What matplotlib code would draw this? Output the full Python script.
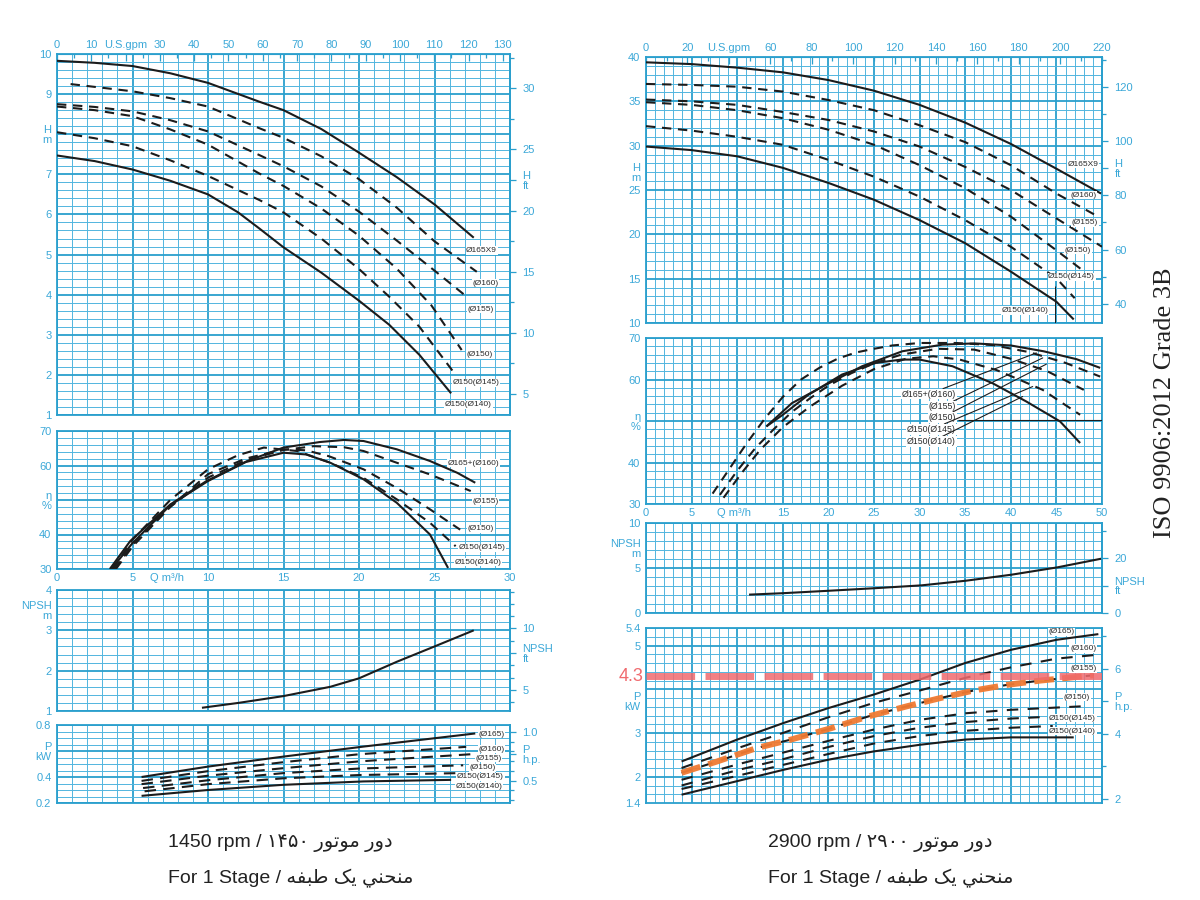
import numpy as np
import matplotlib
matplotlib.use("Agg")
import matplotlib.pyplot as plt
import matplotlib.transforms as mtransforms
from matplotlib.ticker import MultipleLocator

plt.rcParams['font.family'] = ['Liberation Sans', 'DejaVu Sans']

GRID_MAJ = '#2a9fcd'
GRID_MIN = '#52b5de'
LBL = '#3ba8d8'
INK = '#1c1c1c'

M2FT = 3.28084
KW2HP = 1 / 0.7457
M3H2GPM = 4.4029

# ================= 1450 rpm (left) =================
# H [m]
L_H165_Q = [0, 2.5, 5, 7.5, 10, 13.4, 15, 17.5, 20, 22.5, 25, 27.6]
L_H165 = [9.83, 9.78, 9.7, 9.52, 9.28, 8.81, 8.6, 8.13, 7.54, 6.93, 6.25, 5.42]
L_H160_Q = [0.9, 2.5, 5, 7.5, 10, 13.4, 15, 17.5, 20, 22.5, 25, 27.8]
L_H160 = [9.25, 9.18, 9.07, 8.9, 8.69, 8.15, 7.91, 7.45, 6.88, 6.17, 5.33, 4.57]
L_H155_Q = [0, 2.5, 5, 7.5, 10, 13.4, 15, 17.5, 20, 22.5, 25, 27.0]
L_H155 = [8.75, 8.68, 8.57, 8.35, 8.07, 7.48, 7.2, 6.7, 6.07, 5.35, 4.6, 3.99]
L_H150_Q = [0, 2.5, 5, 7.5, 10, 13.4, 15, 17.5, 20, 22.5, 24.8, 26.8]
L_H150 = [8.69, 8.6, 8.45, 8.12, 7.74, 7.02, 6.71, 6.15, 5.47, 4.65, 3.73, 2.62]
L_H145_Q = [0, 2.5, 5, 7.5, 10, 13.4, 15, 17.5, 20, 22, 24, 26.4]
L_H145 = [8.05, 7.9, 7.7, 7.35, 6.96, 6.36, 6.05, 5.4, 4.64, 3.95, 3.2, 2.0]
L_H140_Q = [0, 2.5, 5, 7.5, 10, 12, 13.4, 15, 17.5, 20, 22, 24, 26.1]
L_H140 = [7.47, 7.33, 7.12, 6.84, 6.5, 6.05, 5.65, 5.18, 4.55, 3.85, 3.25, 2.5, 1.54]

# efficiency [%]
L_E165_Q = [3.5, 4.85, 7.5, 9.9, 12.6, 15, 17.4, 19, 20.3, 22.5, 24.7, 26.5, 27.7]
L_E165 = [30, 38.1, 48.7, 55.5, 61.3, 65.2, 66.8, 67.4, 67.1, 64.7, 61.3, 57.9, 55]
L_E155_Q = [3.8, 5, 7.5, 10, 12.5, 15, 17, 19, 20.3, 22.5, 24.7, 27.4]
L_E155 = [30, 37, 48, 56.5, 61.5, 64.5, 65.6, 65.3, 64.2, 60.8, 57.4, 52.6]
L_E150_Q = [3.9, 5, 7.5, 10, 12.5, 15, 16.5, 18, 20.3, 22.5, 24.7, 26.7]
L_E150 = [30, 36.5, 48, 57.5, 62, 64.7, 64.4, 62.7, 58.9, 53.5, 47.3, 41.4]
L_E145_Q = [3.7, 5, 7.5, 10, 12, 13.7, 15.9, 18.1, 20.3, 22.5, 24.7, 26.4]
L_E145 = [30, 38.5, 50, 58.9, 63, 65.2, 64.2, 60.8, 56.4, 50.2, 43.4, 36.6]
L_E140_Q = [3.6, 5, 7.5, 10, 12.5, 15, 16.5, 18.1, 20.3, 22.5, 24.7, 25.9]
L_E140 = [30, 37.5, 48.5, 55.5, 61, 63.7, 63.2, 60.8, 56, 49.2, 40, 30.3]

# NPSH [m]
L_NPSH_Q = [9.6, 12, 15, 18.1, 20, 22.5, 25, 27.6]
L_NPSH = [1.08, 1.2, 1.37, 1.6, 1.81, 2.22, 2.6, 3.0]

# power [kW]
L_P165_Q = [5.6, 10, 15, 20.3, 27.7]
L_P165 = [0.40, 0.48, 0.557, 0.634, 0.735]
L_P160_Q = [5.6, 10, 15, 20, 27.1]
L_P160 = [0.37, 0.445, 0.514, 0.575, 0.632]
L_P155_Q = [5.6, 10, 15, 20, 27.4]
L_P155 = [0.345, 0.41, 0.468, 0.52, 0.575]
L_P150_Q = [5.7, 10, 15, 20, 26.9]
L_P150 = [0.315, 0.375, 0.43, 0.465, 0.49]
L_P145_Q = [5.8, 10, 15, 20, 26.7]
L_P145 = [0.29, 0.345, 0.39, 0.415, 0.43]
L_P140_Q = [5.6, 10, 15, 20.3, 26.1]
L_P140 = [0.255, 0.3, 0.34, 0.366, 0.378]

# ================= 2900 rpm (right) =================
R_H165_Q = [0, 5, 10, 15, 20, 25, 30, 35, 40, 45, 49.9]
R_H165 = [39.4, 39.2, 38.8, 38.27, 37.4, 36.2, 34.6, 32.6, 30.2, 27.4, 24.6]
R_H160_Q = [0, 5, 10, 15, 20, 25, 30, 35, 40, 45, 49.4]
R_H160 = [36.96, 36.85, 36.65, 36.1, 35.15, 34.0, 32.3, 30.4, 27.8, 24.6, 22.1]
R_H155_Q = [0, 5, 10, 15, 20, 25, 30, 35, 40, 45, 50]
R_H155 = [35.2, 35.0, 34.6, 33.8, 32.9, 31.6, 29.9, 27.6, 25.0, 21.8, 18.6]
R_H150_Q = [0, 5, 10, 15, 20, 25, 30, 35, 40, 45, 47.8]
R_H150 = [34.9, 34.6, 34.0, 33.1, 31.8, 30.1, 27.8, 25.2, 22.0, 18.2, 16.0]
R_H145_Q = [0, 5, 10, 15, 20, 25, 30, 35, 40, 45, 47]
R_H145 = [32.2, 31.7, 31.0, 30.1, 28.4, 26.5, 24.25, 21.6, 18.6, 15.05, 12.8]
R_H140_Q = [0, 5, 10, 15, 20, 25, 30, 35, 40, 45, 46.9]
R_H140 = [29.9, 29.5, 28.8, 27.5, 25.8, 23.9, 21.6, 19.0, 15.8, 12.4, 10.4]

R_E165_Q = [13.2, 16, 19.7, 23.7, 28.1, 32.5, 36, 40, 43.6, 47.2, 49.8]
R_E165 = [48.7, 54.3, 58.7, 63.2, 66.8, 68.4, 68.7, 68.2, 66.8, 64.9, 62.8]
R_E155_Q = [7.3, 9, 11, 13, 15, 17, 19, 21, 23, 25, 27, 30, 34, 38, 42, 46, 49.8]
R_E155 = [32.5, 38, 44.5, 50.5, 55.8, 60, 62.8, 65, 66.5, 67.4, 68.2, 68.8, 68.8, 68.3, 66.6, 64.0, 60.7]
R_E150_Q = [8.1, 10, 12, 14, 16, 18, 20, 22.5, 25, 28, 32, 36, 40, 44, 48]
R_E150 = [32.2, 38, 43.5, 48, 52.2, 55.5, 58.5, 61.5, 63.9, 66, 67.4, 67.2, 65, 62, 57.5]
R_E145_Q = [8.5, 10.5, 12.5, 15, 18, 21.5, 25, 28.5, 31.5, 34.4, 38.4, 41, 43.5, 45.4, 47.6]
R_E145 = [31.5, 37.5, 43, 48.5, 53.5, 58.5, 62.5, 65.0, 65.6, 64.8, 62.3, 59.9, 57.5, 54.7, 51.5]
R_E140_Q = [13.2, 15, 17.8, 21.5, 25.2, 28, 30, 33.6, 38, 41.7, 45.4, 47.6]
R_E140 = [48.7, 51.5, 56.3, 61.2, 64, 64.8, 64.8, 63.2, 59.1, 54.7, 49.9, 44.7]

R_NPSH_Q = [11.3, 15, 20.2, 25, 30.2, 35.1, 40.1, 45.1, 49.9]
R_NPSH = [2.04, 2.2, 2.48, 2.75, 3.07, 3.59, 4.26, 5.07, 6.03]

R_P165_Q = [3.9, 10, 15.1, 20, 25, 30, 35, 40, 45, 49.6]
R_P165 = [2.35, 2.85, 3.23, 3.57, 3.88, 4.22, 4.6, 4.9, 5.13, 5.26]
R_P160_Q = [3.9, 10, 15, 20, 25, 30, 35, 40, 45, 49.6]
R_P160 = [2.2, 2.65, 3.0, 3.36, 3.69, 3.97, 4.26, 4.5, 4.7, 4.79]
R_P155_Q = [3.9, 7.8, 12.2, 15.9, 20.3, 24.4, 28.6, 32.3, 35.9, 39.6, 43.3, 49.1]
R_P155 = [2.09, 2.35, 2.66, 2.85, 3.11, 3.38, 3.61, 3.8, 3.97, 4.1, 4.2, 4.32]
R_P150_Q = [3.9, 10, 15, 20, 25, 30, 35, 40, 47.8]
R_P150 = [1.93, 2.28, 2.55, 2.82, 3.08, 3.3, 3.45, 3.53, 3.61]
R_P145_Q = [3.9, 10, 15, 20, 25, 30, 35, 40, 44]
R_P145 = [1.8, 2.15, 2.4, 2.68, 2.93, 3.12, 3.25, 3.33, 3.37]
R_P14X_Q = [3.9, 10, 15, 20, 25, 30, 35, 40, 44.6]
R_P14X = [1.72, 2.02, 2.27, 2.52, 2.76, 2.93, 3.05, 3.12, 3.16]
R_P140_Q = [3.9, 10, 15.1, 20, 25, 30, 35, 40, 46.9]
R_P140 = [1.59, 1.9, 2.16, 2.39, 2.58, 2.73, 2.85, 2.9, 2.9]
P_LIMIT = 4.3

# ---- text (Arabic script written in display order, presentation forms) ----
FA_DOR = '\uFEAD\uFEED\uFEA9'                      # دور
FA_MOTOR = '\uFEAD\uFEEE\uFE97\uFEEE\uFEE3'        # موتور
FA_TABAGHE = '\uFEEA\uFED4\uFE92\uFEC3'            # طبقه
FA_YEK = '\uFB8F\uFEF3'                            # یک
FA_MONHANI = '\uFEF2\uFEE8\uFEA4\uFEE8\uFEE3'      # منحنی
TXT_L1 = '1450 rpm / \u06F1\u06F4\u06F5\u06F0 ' + FA_MOTOR + ' ' + FA_DOR
TXT_R1 = '2900 rpm / \u06F2\u06F9\u06F0\u06F0 ' + FA_MOTOR + ' ' + FA_DOR
TXT_2 = 'For 1 Stage / ' + FA_TABAGHE + ' ' + FA_YEK + ' ' + FA_MONHANI

W, HH = 1200, 900
fig = plt.figure(figsize=(12, 9), dpi=100)
fig.patch.set_facecolor('white')


def make_ax(x0, y0, x1, y1, xlim, ylim):
    ax = fig.add_axes([x0 / W, 1 - y1 / HH, (x1 - x0) / W, (y1 - y0) / HH])
    ax.set_xlim(*xlim)
    ax.set_ylim(*ylim)
    for s in ax.spines.values():
        s.set_color(GRID_MAJ)
        s.set_linewidth(1.3)
    ax.tick_params(length=0, labelsize=8, labelcolor=LBL, pad=4)
    ax.set_xticks([])
    return ax


def draw_grid(ax, xstep, xmaj, ystep, ymaj):
    x0, x1 = ax.get_xlim()
    y0, y1 = ax.get_ylim()
    for x in np.arange(x0, x1 + 1e-6, xstep):
        m = np.isclose(x / xmaj, round(x / xmaj))
        ax.axvline(x, color=GRID_MAJ if m else GRID_MIN, lw=1.3 if m else 0.7, zorder=0)
    for y in np.arange(y0, y1 + 1e-6, ystep):
        m = np.isclose(y / ymaj, round(y / ymaj))
        ax.axhline(y, color=GRID_MAJ if m else GRID_MIN, lw=1.3 if m else 0.7, zorder=0)


def left_ticks(ax, ticks, labels):
    ax.set_yticks(ticks, labels=labels)
    for t in ax.get_yticklabels():
        t.set_linespacing(0.95)


def right_axis(ax, f, ticks, labels, minor):
    sec = ax.secondary_yaxis('right', functions=(lambda v: v * f, lambda v: v / f))
    sec.set_yticks(ticks, labels=labels)
    sec.yaxis.set_minor_locator(MultipleLocator(minor))
    sec.tick_params(which='both', direction='out', color=GRID_MAJ, labelcolor=LBL,
                    labelsize=8, width=0.9)
    sec.tick_params(which='major', length=4, pad=5)
    sec.tick_params(which='minor', length=3)
    sec.spines['right'].set_color(GRID_MAJ)
    sec.spines['right'].set_linewidth(1.3)
    for t in sec.get_yticklabels():
        t.set_linespacing(0.95)
    return sec


def top_axis(ax, ticks, labels, minor):
    sec = ax.secondary_xaxis('top', functions=(lambda q: q * M3H2GPM, lambda g: g / M3H2GPM))
    sec.set_xticks(ticks, labels=labels)
    sec.xaxis.set_minor_locator(MultipleLocator(minor))
    sec.tick_params(which='both', direction='in', color=GRID_MAJ, labelcolor=LBL,
                    labelsize=8, width=0.9, pad=3)
    sec.tick_params(which='major', length=5)
    sec.tick_params(which='minor', length=3)
    sec.spines['top'].set_color(GRID_MAJ)
    return sec


def curve(ax, q, v, dashed=False, dash=(4.5, 3.2), lw=1.5):
    ax.plot(q, v, color=INK, lw=lw, ls=(0, dash) if dashed else '-',
            zorder=3, solid_capstyle='butt', dash_capstyle='butt', solid_joinstyle='round')


def tag(ax, x, y, s, ha='left', size=6):
    ax.text(x, y, s, fontsize=size, color='#2a2a2a', ha=ha, va='center', zorder=6,
            bbox=dict(fc='white', ec='none', pad=0.5))


# ---------------- left column ----------------
ax = make_ax(57, 54, 510, 415, (0, 30), (1, 10))
draw_grid(ax, 1, 5, 0.2, 1)
left_ticks(ax, list(range(1, 11)), ['1', '2', '3', '4', '5', '6', '7', 'H\nm', '9', '10'])
top_axis(ax, list(range(0, 131, 10)),
         ['0', '10', 'U.S.gpm'] + [str(v) for v in range(30, 131, 10)], 5)
right_axis(ax, M2FT, [5, 10, 15, 20, 22.5, 25, 30], ['5', '10', '15', '20', 'H\nft', '25', '30'], 2.5)
curve(ax, L_H165_Q, L_H165)
curve(ax, L_H160_Q, L_H160, True)
curve(ax, L_H155_Q, L_H155, True)
curve(ax, L_H150_Q, L_H150, True)
curve(ax, L_H145_Q, L_H145, True)
curve(ax, L_H140_Q, L_H140)
tag(ax, 27.1, 5.1, 'Ø165X9')
tag(ax, 27.5, 4.29, '(Ø160)')
tag(ax, 27.2, 3.64, '(Ø155)')
tag(ax, 27.15, 2.5, '(Ø150)')
tag(ax, 26.2, 1.8, 'Ø150(Ø145)')
tag(ax, 25.7, 1.25, 'Ø150(Ø140)')

ax = make_ax(57, 431, 510, 569, (0, 30), (30, 70))
draw_grid(ax, 1, 5, 2, 10)
left_ticks(ax, [30, 40, 50, 60, 70], ['30', '40', 'η\n%', '60', '70'])
ax.set_xticks([0, 5, 7.3, 10, 15, 20, 25, 30],
              labels=['0', '5', 'Q m³/h', '10', '15', '20', '25', '30'])
ax.tick_params(axis='x', pad=3)
curve(ax, L_E165_Q, L_E165)
curve(ax, L_E155_Q, L_E155, True)
curve(ax, L_E150_Q, L_E150, True)
curve(ax, L_E145_Q, L_E145, True)
curve(ax, L_E140_Q, L_E140)
tag(ax, 25.9, 60.7, 'Ø165+(Ø160)')
tag(ax, 27.5, 49.7, '(Ø155)')
tag(ax, 27.2, 41.6, '(Ø150)')
tag(ax, 26.6, 36.1, 'Ø150(Ø145)')
tag(ax, 26.35, 32.0, 'Ø150(Ø140)')

ax = make_ax(57, 590, 510, 711, (0, 30), (1, 4))
draw_grid(ax, 1, 5, 0.2, 1)
left_ticks(ax, [1, 2, 3, 3.5, 4], ['1', '2', '3', 'NPSH\nm', '4'])
right_axis(ax, M2FT, [5, 8, 10], ['5', 'NPSH\nft', '10'], 1)
curve(ax, L_NPSH_Q, L_NPSH)

ax = make_ax(57, 725, 510, 803, (0, 30), (0.2, 0.8))
draw_grid(ax, 1, 5, 0.05, 0.2)
left_ticks(ax, [0.2, 0.4, 0.6, 0.8], ['0.2', '0.4', 'P\nkW', '0.8'])
right_axis(ax, KW2HP, [0.5, 0.77, 1.0], ['0.5', 'P\nh.p.', '1.0'], 0.1)
curve(ax, L_P165_Q, L_P165)
curve(ax, L_P160_Q, L_P160, True, (5.5, 3.5))
curve(ax, L_P155_Q, L_P155, True, (5.5, 3.5))
curve(ax, L_P150_Q, L_P150, True, (5.5, 3.5))
curve(ax, L_P145_Q, L_P145, True, (5.5, 3.5))
curve(ax, L_P140_Q, L_P140)
tag(ax, 27.9, 0.73, '(Ø165)')
tag(ax, 27.9, 0.615, '(Ø160)')
tag(ax, 27.7, 0.546, '(Ø155)')
tag(ax, 27.3, 0.47, '(Ø150)')
tag(ax, 26.5, 0.40, 'Ø150(Ø145)')
tag(ax, 26.4, 0.33, 'Ø150(Ø140)')

# ---------------- right column ----------------
ax = make_ax(646, 57, 1102, 323, (0, 50), (10, 40))
draw_grid(ax, 1, 5, 1, 5)
left_ticks(ax, [10, 15, 20, 25, 27, 30, 35, 40], ['10', '15', '20', '25', 'H\nm', '30', '35', '40'])
top_axis(ax, list(range(0, 221, 20)),
         ['0', '20', 'U.S.gpm'] + [str(v) for v in range(60, 221, 20)], 10)
right_axis(ax, M2FT, [40, 60, 80, 90, 100, 120], ['40', '60', '80', 'H\nft', '100', '120'], 10)
curve(ax, R_H165_Q, R_H165)
curve(ax, R_H160_Q, R_H160, True)
curve(ax, R_H155_Q, R_H155, True)
curve(ax, R_H150_Q, R_H150, True)
curve(ax, R_H145_Q, R_H145, True)
curve(ax, R_H140_Q, R_H140)
ax.vlines(44.8, 10, 14.2, color=INK, lw=0.7, zorder=3)
tag(ax, 46.2, 27.9, 'Ø165X9')
tag(ax, 46.5, 24.4, '(Ø160)')
tag(ax, 46.7, 21.3, '(Ø155)')
tag(ax, 45.9, 18.2, '(Ø150)')
tag(ax, 44.1, 15.2, 'Ø150(Ø145)')
tag(ax, 39.0, 11.4, 'Ø150(Ø140)')

ax = make_ax(646, 338, 1102, 504, (0, 50), (30, 70))
draw_grid(ax, 1, 5, 2, 10)
left_ticks(ax, [30, 40, 50, 60, 70], ['30', '40', 'η\n%', '60', '70'])
ax.set_xticks([0, 5, 9.6, 15, 20, 25, 30, 35, 40, 45, 50],
              labels=['0', '5', 'Q m³/h', '15', '20', '25', '30', '35', '40', '45', '50'])
ax.tick_params(axis='x', pad=3)
curve(ax, R_E165_Q, R_E165)
curve(ax, R_E155_Q, R_E155, True)
curve(ax, R_E150_Q, R_E150, True)
curve(ax, R_E145_Q, R_E145, True)
curve(ax, R_E140_Q, R_E140)
ax.hlines(50.3, 34.2, 50, color=INK, lw=0.8, zorder=3)
lead = dict(arrowstyle='-', lw=0.8, color=INK, shrinkA=0, shrinkB=0)
for s, ty, tx, hy in [('Ø165+(Ø160)', 56.5, 42.8, 66.4), ('(Ø155)', 53.5, 43.5, 65.2),
                      ('(Ø150)', 50.9, 43.9, 63.7), ('Ø150(Ø145)', 48.0, 42.4, 58.3),
                      ('Ø150(Ø140)', 45.0, 41.3, 55.9)]:
    ax.annotate(s, xy=(tx, hy), xytext=(34.0, ty), ha='right', va='center', fontsize=6.3,
                color='#2a2a2a', arrowprops=lead, zorder=6,
                bbox=dict(fc='white', ec='none', pad=0.6))

ax = make_ax(646, 523, 1102, 613, (0, 50), (0, 10))
draw_grid(ax, 1, 5, 1, 5)
left_ticks(ax, [0, 5, 7.2, 10], ['0', '5', 'NPSH\nm', '10'])
right_axis(ax, M2FT, [0, 10, 20], ['0', 'NPSH\nft', '20'], 10)
curve(ax, R_NPSH_Q, R_NPSH)

ax = make_ax(646, 628, 1102, 803, (0, 50), (1.4, 5.4))
draw_grid(ax, 1, 5, 0.2, 1)
left_ticks(ax, [1.4, 2, 3, 3.72, 5, 5.4], ['1.4', '2', '3', 'P\nkW', '5', '5.4'])
right_axis(ax, KW2HP, [2, 4, 5, 6], ['2', '4', 'P\nh.p.', '6'], 1)
pd = (5.5, 4.5)
curve(ax, R_P165_Q, R_P165)
curve(ax, R_P160_Q, R_P160, True, pd)
curve(ax, R_P155_Q, R_P155, True, pd)
curve(ax, R_P150_Q, R_P150, True, pd)
curve(ax, R_P145_Q, R_P145, True, pd)
curve(ax, R_P14X_Q, R_P14X, True, pd)
curve(ax, R_P140_Q, R_P140)
ax.plot(R_P155_Q, R_P155, color='#f07a32', lw=4.3, ls=(0, (3.3, 1.4)), alpha=0.95, zorder=4)
ax.axhline(P_LIMIT, color='#f06a6e', lw=5, ls=(0, (7.0, 1.5)), alpha=0.85, zorder=4)
tr = mtransforms.blended_transform_factory(ax.transAxes, ax.transData)
ax.text(-0.006, P_LIMIT, '4.3', transform=tr, ha='right', va='center',
        color='#f06a6e', fontsize=13)
tag(ax, 44.1, 5.31, '(Ø165)')
tag(ax, 46.5, 4.93, '(Ø160)')
tag(ax, 46.5, 4.47, '(Ø155)')
tag(ax, 45.8, 3.82, '(Ø150)')
tag(ax, 44.2, 3.34, 'Ø150(Ø145)')
tag(ax, 44.2, 3.04, 'Ø150(Ø140)')

# ---------------- captions ----------------
cap = dict(fontsize=14, color='#222222', va='center', ha='left',
           family=['Liberation Sans', 'DejaVu Sans'])
fig.text(168 / W, 1 - 843 / HH, TXT_L1, **cap)
fig.text(168 / W, 1 - 878 / HH, TXT_2, **cap)
fig.text(768 / W, 1 - 843 / HH, TXT_R1, **cap)
fig.text(768 / W, 1 - 878 / HH, TXT_2, **cap)
fig.text(1165 / W, 1 - 403 / HH, 'ISO 9906:2012 Grade 3B', rotation=90, ha='center',
         va='center', fontsize=19, color='#222222', family='Liberation Serif')

fig.savefig('out.png', dpi=100, facecolor='white')
